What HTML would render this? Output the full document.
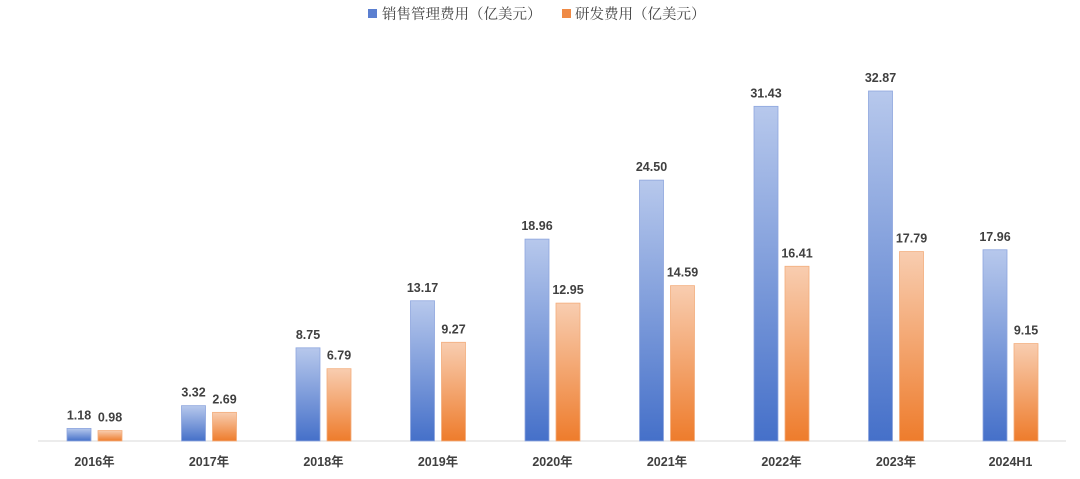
<!DOCTYPE html>
<html><head><meta charset="utf-8"><style>
body{margin:0;background:#fff;width:1080px;height:479px;overflow:hidden}
svg{display:block}
</style></head><body>
<svg id="chart" width="1080" height="479">
<defs>
<linearGradient id="gb" x1="0" y1="0" x2="0" y2="1"><stop offset="0" stop-color="#b7c8ec"/><stop offset="1" stop-color="#4570c9"/></linearGradient>
<linearGradient id="go" x1="0" y1="0" x2="0" y2="1"><stop offset="0" stop-color="#f8cdb0"/><stop offset="1" stop-color="#ee7c2c"/></linearGradient>
</defs>
<g>
<rect x="368" y="9" width="9" height="9" fill="#5b7fd0"/>
<text x="382" y="19" font-size="14.5" fill="#444" font-family="'Liberation Serif','Noto Serif CJK SC',serif">销售管理费用（亿美元）</text>
<rect x="562" y="9" width="9" height="9" fill="#ef8a45"/>
<text x="575" y="19" font-size="14.5" fill="#444" font-family="'Liberation Serif','Noto Serif CJK SC',serif">研发费用（亿美元）</text>
</g>
<line x1="38" y1="441" x2="1066" y2="441" stroke="#d9d9d9" stroke-width="1"/>
<g id="bars"></g>
</svg>
<script>
const categories=["2016年","2017年","2018年","2019年","2020年","2021年","2022年","2023年","2024H1"];
const salesValues=[1.18,3.32,8.75,13.17,18.96,24.50,31.43,32.87,17.96];
const rdValues=[0.98,2.69,6.79,9.27,12.95,14.59,16.41,17.79,9.15];
const base=441, k=(441-91)/32.87;
const x0=94.5, step=114.5, bw=24, gap=7;
const y=v=>base-v*k;
const cx=i=>x0+i*step;
const g=document.getElementById('bars');
const NS='http://www.w3.org/2000/svg';
function txt(x,yy,s,name,size,weight,fam){
  const t=document.createElementNS(NS,'text');
  t.setAttribute('x',x);t.setAttribute('y',yy);t.setAttribute('text-anchor','middle');
  t.setAttribute('font-size',size);t.setAttribute('font-weight',weight);t.setAttribute('fill','#404040');
  t.setAttribute('font-family',fam);
  t.textContent=s;
  
  
  g.appendChild(t);
}
categories.forEach((c,i)=>{
  [[salesValues[i],'url(#gb)','#8ea6de',-gap/2-bw,'sales'],[rdValues[i],'url(#go)','#f3ad7c',gap/2,'rd']].forEach(([v,f,s,off,nm])=>{
    const r=document.createElementNS(NS,'rect');
    r.setAttribute('x',cx(i)+off);r.setAttribute('y',y(v));
    r.setAttribute('width',bw);r.setAttribute('height',base-y(v));
    r.setAttribute('fill',f);r.setAttribute('stroke',s);r.setAttribute('stroke-width','0.8');
    
    
    g.appendChild(r);
    txt(cx(i)+off+bw/2,y(v)-9,v.toFixed(2),'value-label-'+nm+'-'+i,12.5,'bold',"'Liberation Sans',sans-serif");
  });
  txt(cx(i),466,c,'x-tick-'+i,12.5,'bold',"'Liberation Sans','Noto Sans CJK SC',sans-serif");
});
</script>
</body></html>
